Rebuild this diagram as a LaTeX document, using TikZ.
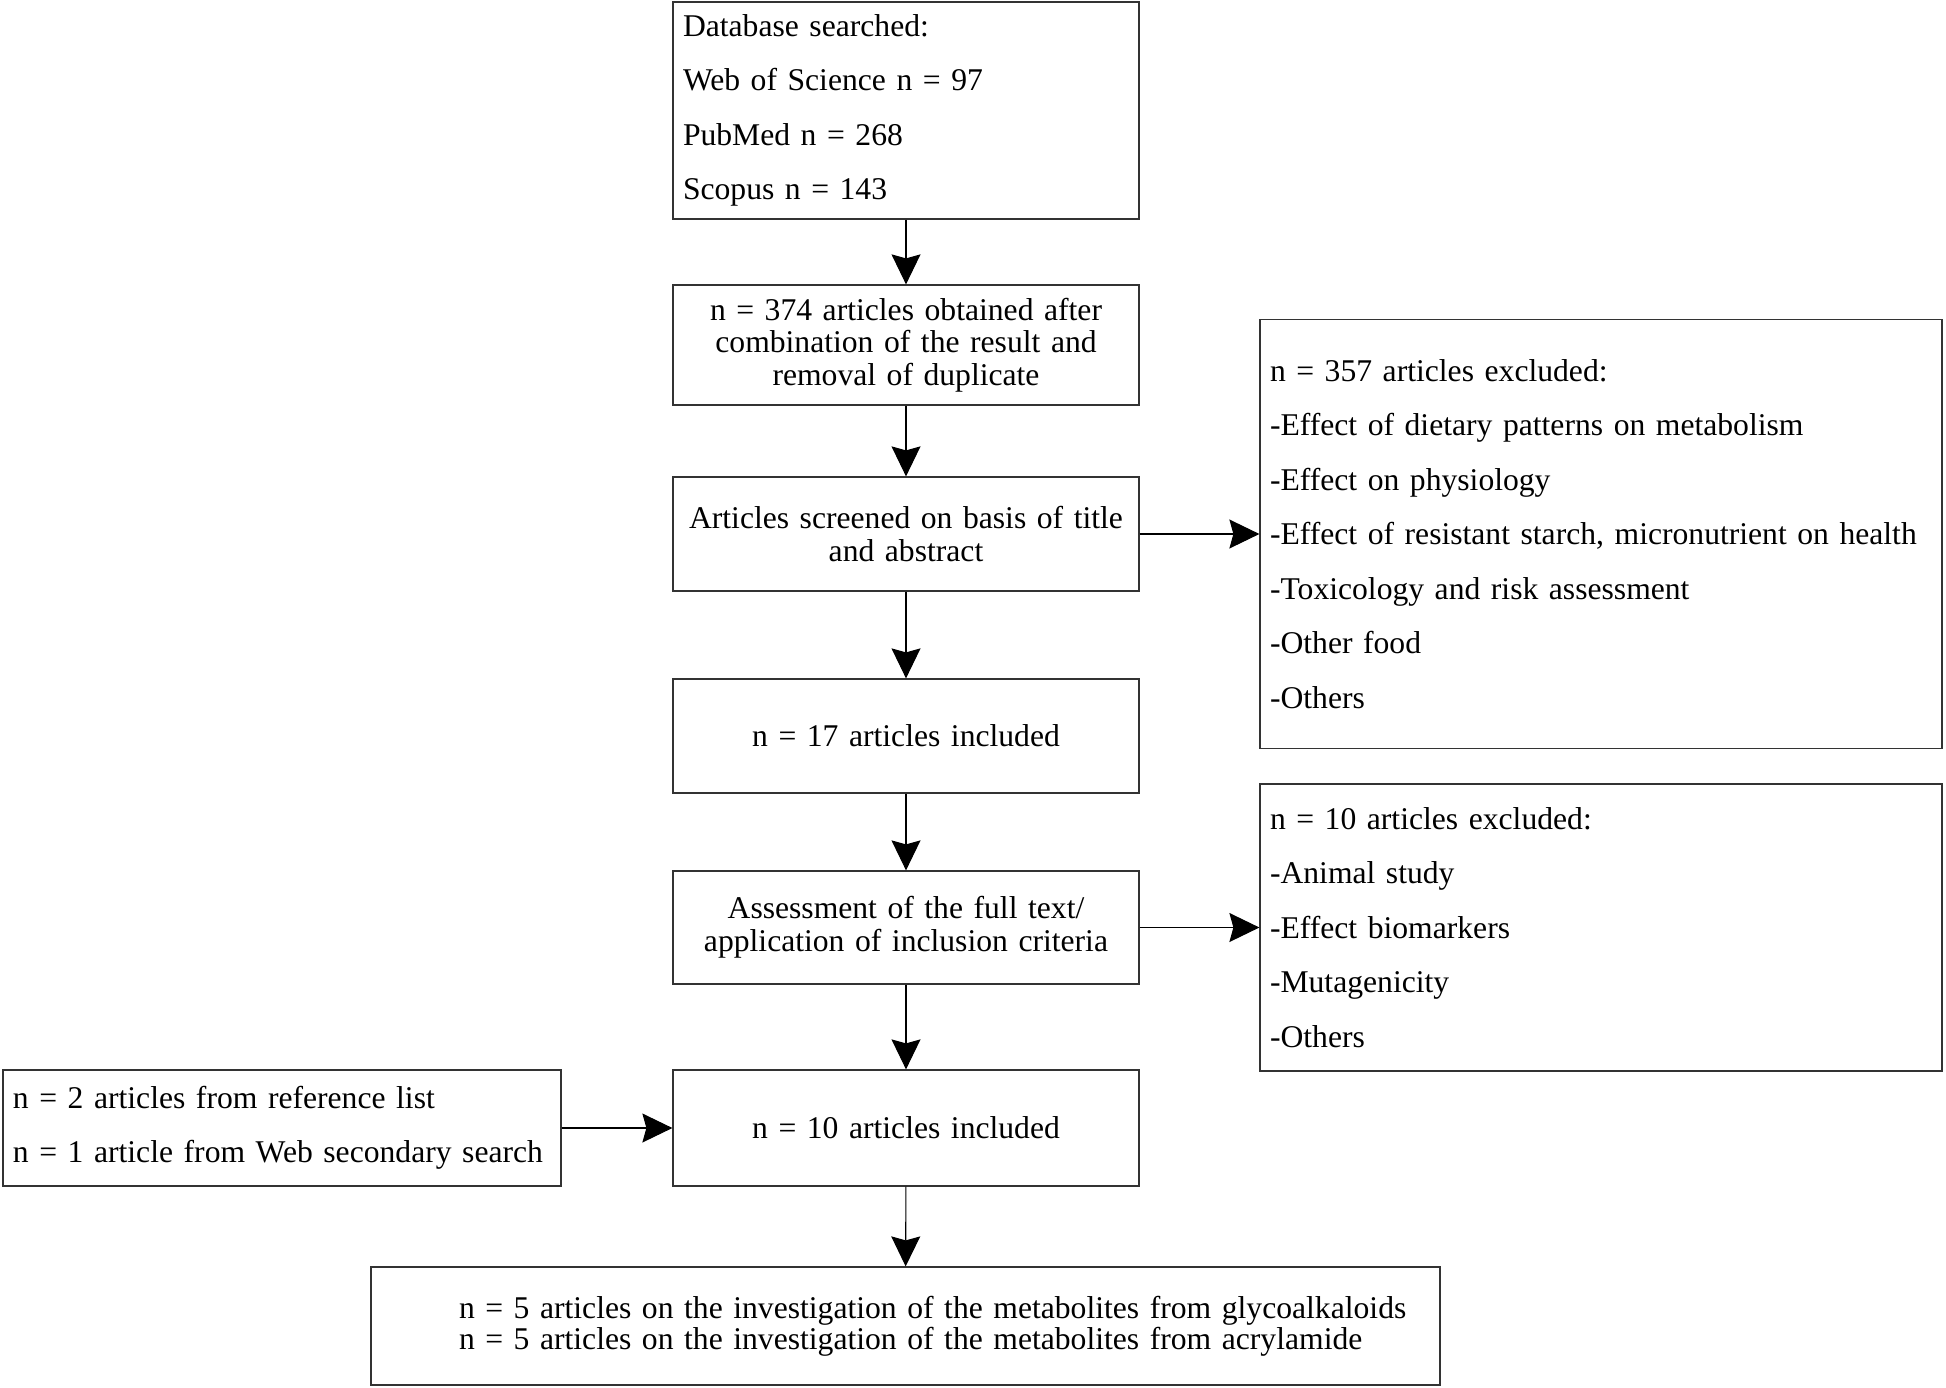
\documentclass[tikz,border=0pt]{standalone}
\usepackage{fontspec}
\setmainfont{Liberation Serif}
\usetikzlibrary{arrows.meta}

\begin{document}
\begin{tikzpicture}[
  box/.style={draw=black!80, line width=0.7pt, text width=8.92cm, align=center, inner xsep=0.2cm, inner ysep=0.1cm, font=\fontsize{18}{18.6}\selectfont},
  listbox/.style={draw=black!80, line width=0.7pt, inner xsep=0.2cm, inner ysep=0.1cm, align=left, font=\fontsize{18}{31}\selectfont},
  arr/.style={-{Stealth[length=0.6cm, width=0.58cm, inset=0.08cm]}, line width=0.6pt}
]
  \useasboundingbox (0,0) rectangle (38.92,-27.74);

  % Main column
  \node[listbox, text width=8.92cm, minimum height=4.34cm] (search) at (18.12,-2.21) {Database searched:\\Web of Science n = 97\\PubMed n = 268\\Scopus n = 143};
  \node[box, minimum height=2.40cm] (merged) at (18.12,-6.90) {n = 374 articles obtained after\\combination of the result and\\removal of duplicate};
  \node[box, minimum height=2.28cm] (screen) at (18.12,-10.68) {Articles screened on basis of title\\and abstract};
  \node[box, minimum height=2.28cm] (incl17) at (18.12,-14.72) {n = 17 articles included};
  \node[box, minimum height=2.26cm] (assess) at (18.12,-18.55) {Assessment of the full text/\\application of inclusion criteria};
  \node[box, minimum height=2.32cm] (incl10) at (18.12,-22.56) {n = 10 articles included};
  \node[box, text width=20.98cm, align=left, minimum height=2.36cm, font=\fontsize{18}{15.1}\selectfont] (final) at (18.11,-26.52) {\hspace*{1.56cm}\mbox{n = 5 articles on the investigation of the metabolites from glycoalkaloids}\\\hspace*{1.56cm}\mbox{n = 5 articles on the investigation of the metabolites from acrylamide}};

  % Side boxes
  \node[listbox, text width=13.24cm, minimum height=8.58cm] (excl357) at (32.02,-10.68) {n = 357 articles excluded:\\-Effect of dietary patterns on metabolism\\-Effect on physiology\\\mbox{-Effect of resistant starch, micronutrient on health}\\-Toxicology and risk assessment\\-Other food\\-Others};
  \node[listbox, text width=13.24cm, minimum height=5.74cm] (excl10) at (32.02,-18.55) {n = 10 articles excluded:\\-Animal study\\-Effect biomarkers\\-Mutagenicity\\-Others};
  \node[listbox, text width=10.76cm, minimum height=2.32cm] (extra) at (5.64,-22.56) {n = 2 articles from reference list\\\mbox{n = 1 article from Web secondary search}};

  % Arrows
  \draw[arr] (search) -- (merged);
  \draw[arr] (merged) -- (screen);
  \draw[arr] (screen) -- (incl17);
  \draw[arr] (incl17) -- (assess);
  \draw[arr] (assess) -- (incl10);
  \draw[arr] (incl10) -- (final);
  \draw[arr] (screen) -- (excl357);
  \draw[arr] (assess) -- (excl10);
  \draw[arr] (extra) -- (incl10);
\end{tikzpicture}
\end{document}
